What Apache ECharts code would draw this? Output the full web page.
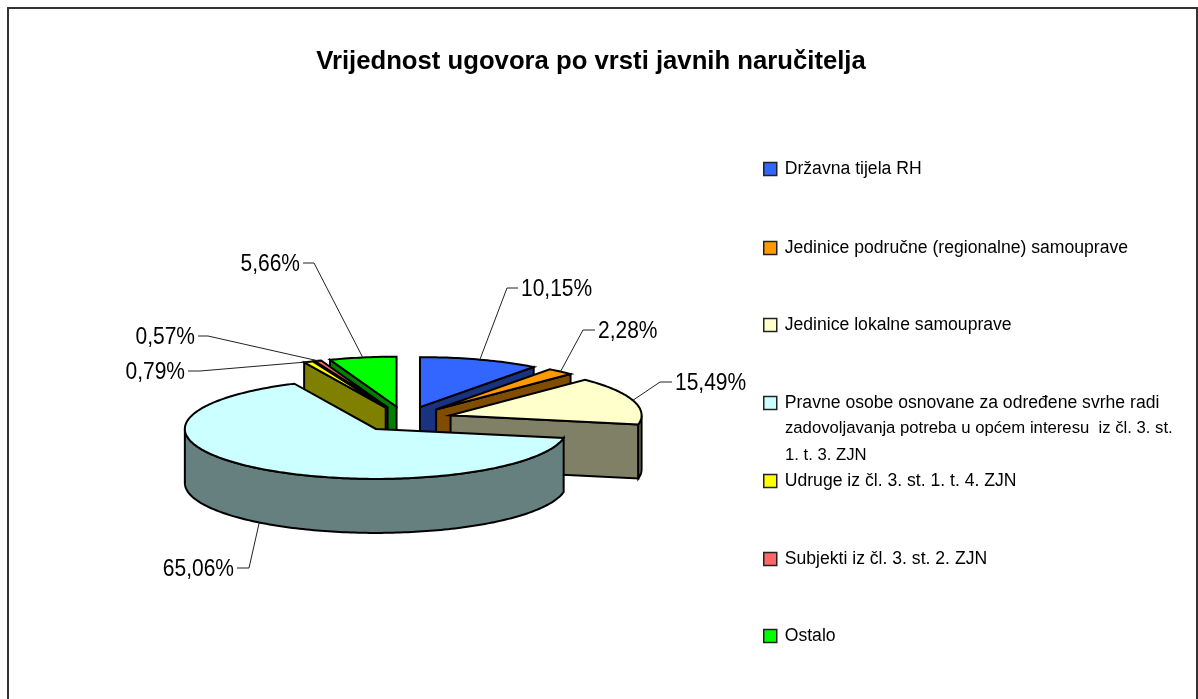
<!DOCTYPE html>
<html>
<head>
<meta charset="utf-8">
<title>Vrijednost ugovora po vrsti javnih naručitelja</title>
<script src="https://cdn.jsdelivr.net/npm/echarts@6/dist/echarts.min.js"></script>
<style>
html, body { margin: 0; padding: 0; background: #fff; }
#main { width: 1198px; height: 699px; }
</style>
</head>
<body>
<div id="main"></div>
<script>
var titleText = 'Vrijednost ugovora po vrsti javnih naručitelja';
var categories = [
	'Državna tijela RH',
	'Jedinice područne (regionalne) samouprave',
	'Jedinice lokalne samouprave',
	'Pravne osobe osnovane za određene svrhe radi\nzadovoljavanja potreba u općem interesu  iz čl. 3. st.\n1. t. 3. ZJN',
	'Udruge iz čl. 3. st. 1. t. 4. ZJN',
	'Subjekti iz čl. 3. st. 2. ZJN',
	'Ostalo'
];
var values = [10.15, 2.28, 15.49, 65.06, 0.79, 0.57, 5.66];
var topColors = ['#3366FF', '#FF9900', '#FFFFCC', '#CCFFFF', '#FFFF00', '#FF6666', '#00FF00'];
var sideColors = ['#1A3380', '#804C00', '#808066', '#668080', '#808000', '#803333', '#008000'];

var cx = 405, cy = 419, rx = 191, ry = 50, depth = 54, explode = 0.25;
// elbow of each leader line, its end, and the text anchor
var leaderElbow = [[507, 288], [583, 330], [660, 382], [249, 568], [200, 371], [208, 336], [314, 263]];
var leaderEnd = [518, 595, 672, 237, 188, 198, 303];
var labelAlign = ['left', 'left', 'left', 'right', 'right', 'right', 'right'];
var legendY = [168, 247, 324, 402, 480, 558, 635];

var total = 0;
var angles = [];
for (var i = 0; i < values.length; i++) {
	angles.push(total / 100 * 2 * Math.PI);
	total += values[i];
}
angles.push(2 * Math.PI);

function apexOf(idx) {
	var mid = (angles[idx] + angles[idx + 1]) / 2;
	return [cx + rx * explode * Math.sin(mid), cy - ry * explode * Math.cos(mid)];
}

function arcPoints(apex, from, to, dy) {
	var pts = [];
	var n = Math.max(2, Math.ceil((to - from) / 0.02));
	for (var k = 0; k <= n; k++) {
		var t = from + (to - from) * k / n;
		pts.push([apex[0] + rx * Math.sin(t), apex[1] - ry * Math.cos(t) + dy]);
	}
	return pts;
}

function wall(apex, ang, idx) {
	var p = arcPoints(apex, ang, ang, 0)[0];
	return {
		type: 'polygon',
		shape: {
			points: [apex, p, [p[0], p[1] + depth], [apex[0], apex[1] + depth]]
		},
		style: { fill: sideColors[idx], stroke: '#000', lineWidth: 2 }
	};
}

function makeRender(idx) {
	return function(params, api) {
		var share = api.value(0);
		var a = angles[idx], b = angles[idx + 1];
		var apex = apexOf(idx);
		var children = [];
		// only the walls facing the viewer
		if (Math.sin(a) < -0.001) children.push(wall(apex, a, idx));
		if (Math.sin(b) > 0.001) children.push(wall(apex, b, idx));
		// outer rim, front half of the ellipse
		var r0 = Math.max(a, Math.PI / 2), r1 = Math.min(b, Math.PI * 1.5);
		if (r1 > r0) {
			var rim = arcPoints(apex, r0, r1, 0).concat(arcPoints(apex, r0, r1, depth).reverse());
			children.push({
				type: 'polygon',
				shape: { points: rim },
				style: { fill: sideColors[idx], stroke: '#000', lineWidth: 2 }
			});
		}
		children.push({
			type: 'polygon',
			shape: { points: [apex].concat(arcPoints(apex, a, b, 0)) },
			style: { fill: topColors[idx], stroke: '#000', lineWidth: 2 }
		});
		// leader line starts on the edge at the middle of the slice
		var mid = (a + b) / 2;
		var onFront = Math.cos(mid) < 0;
		var start = arcPoints(apex, mid, mid, onFront ? depth : 0)[0];
		var elbow = leaderElbow[idx];
		var endX = leaderEnd[idx];
		children.push({
			type: 'polyline',
			shape: { points: [start, elbow, [endX, elbow[1]]] },
			style: { fill: null, stroke: '#222', lineWidth: 1 }
		});
		var left = labelAlign[idx] === 'left';
		var textX = endX + (left ? 3 : -3);
		children.push({
			type: 'text',
			// the original digits are taller and narrower than Liberation at this width
			scaleY: 1.13,
			originX: textX,
			originY: elbow[1] + 1,
			style: {
				x: textX,
				y: elbow[1] + 1,
				text: share.toFixed(2).replace('.', ',') + '%',
				fill: '#000',
				font: '21px "Liberation Sans"',
				align: labelAlign[idx],
				verticalAlign: 'middle'
			}
		});
		return { type: 'group', children: children };
	};
}

// back slices get painted first
var order = values.map(function(v, idx) { return idx; }).sort(function(p, q) {
	return apexOf(p)[1] - apexOf(q)[1];
});

var series = categories.map(function(name, idx) {
	return {
		type: 'custom',
		name: name,
		coordinateSystem: 'none',
		z: 2 + order.indexOf(idx),
		silent: true,
		animation: false,
		itemStyle: { color: topColors[idx] },
		renderItem: makeRender(idx),
		data: [[values[idx]]]
	};
});

var legends = categories.map(function(name, idx) {
	return {
		data: [name],
		left: 763,
		top: legendY[idx] - 9,
		padding: 0,
		itemWidth: 13,
		itemHeight: 13,
		itemGap: 0,
		icon: 'rect',
		selectedMode: false,
		itemStyle: { borderColor: '#222', borderWidth: 1.5 },
		textStyle: {
			fontFamily: 'Liberation Sans',
			fontSize: 17.6,
			color: '#000',
			lineHeight: 20,
			padding: [0, 0, 0, 3]
		},
		formatter: function(n) {
			return n.split('\n')[0];
		}
	};
});

// the legend can't keep its swatch on the first line, so wrapped lines go separately
var extraLines = categories[3].split('\n').slice(1).map(function(line, k) {
	return {
		type: 'text',
		left: 785,
		top: 420 + k * 27,
		style: { text: line, fill: '#000', font: '16.7px "Liberation Sans"' }
	};
});

var myChart = echarts.init(document.getElementById('main'));
var option = {
	backgroundColor: '#fff',
	animation: false,
	title: {
		text: titleText,
		left: 586,
		top: 44,
		textAlign: 'center',
		textStyle: {
			fontFamily: 'Liberation Sans',
			fontSize: 25.7,
			fontWeight: 'bold',
			color: '#000'
		}
	},
	legend: legends,
	graphic: [{
		type: 'rect',
		silent: true,
		z: 0,
		shape: { x: 8, y: 8, width: 1189, height: 720 },
		style: { fill: 'none', stroke: '#333', lineWidth: 2 }
	}].concat(extraLines),
	series: series
};
myChart.setOption(option);
</script>
</body>
</html>
